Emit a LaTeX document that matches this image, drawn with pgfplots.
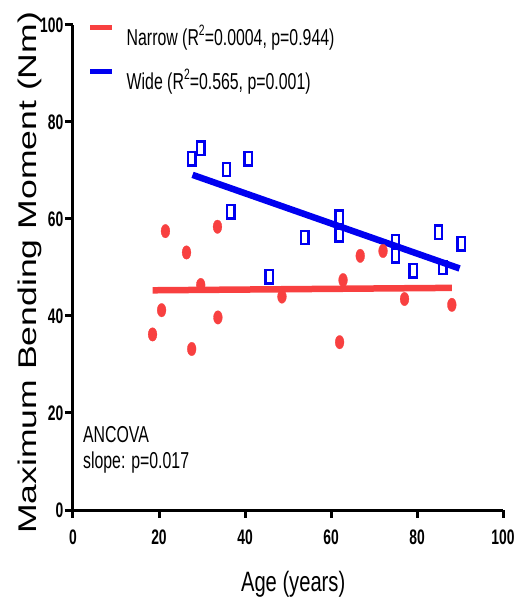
\documentclass[border=0pt]{standalone}
\usepackage{fontspec}
\setmainfont{Liberation Sans}
\newfontfamily\tickfont{Liberation Sans}[FakeStretch=0.66]
\newfontfamily\legfont{Liberation Sans}[FakeStretch=0.69]
\newfontfamily\xlfont{Liberation Sans}[FakeStretch=0.72]
\newfontfamily\ylfont{Liberation Sans}[FakeStretch=1.39]
\usepackage{pgfplots}
\pgfplotsset{compat=1.18}
\usepackage{pgfplotstable}
\definecolor{nred}{RGB}{248,64,64}
\definecolor{wblue}{RGB}{0,0,240}
\newcommand{\sq}{\raisebox{0.45em}{\fontsize{15}{15}\selectfont 2}}

\pgfplotstableread{
x y
18.5 36.2
20.6 41.2
21.5 57.5
26.4 53.1
27.6 33.2
29.7 46.4
33.7 39.7
33.6 58.4
48.6 44.0
62.0 34.6
62.8 47.4
66.8 52.4
72.1 53.4
77.1 43.5
88.1 42.3
}\narrowdata

\pgfplotstableread{
x y
27.6 72.4
29.7 74.6
35.7 70.2
40.7 72.4
36.7 61.5
45.6 48.1
53.9 56.2
61.9 60.4
61.9 56.7
75.0 55.3
75.0 52.4
79.1 49.3
85.0 57.3
86.0 50.0
90.3 54.9
}\widedata

\begin{document}
\begin{tikzpicture}
\begin{axis}[
  scale only axis, width=430pt, height=485pt,
  xmin=0, xmax=100, ymin=0, ymax=100,
  axis x line=bottom, axis y line=left,
  axis line style={-, line width=3pt, black},
  xtick={0,20,40,60,80,100}, ytick={0,20,40,60,80,100},
  xtick align=outside, ytick align=outside,
  major tick length=8pt,
  every tick/.style={black, line width=3pt},
  tick label style={font=\tickfont\bfseries\fontsize{21}{21}\selectfont},
  /pgf/number format/assume math mode=true,
  xticklabel style={inner sep=2pt, yshift=-10pt},
  yticklabel style={inner sep=1.5pt},
  xlabel={Age (years)},
  ylabel={Maximum Bending Moment (Nm)},
  xlabel style={font=\xlfont\fontsize{28}{28}\selectfont, at={(axis description cs:0.512,-0.169)}, anchor=base},
  ylabel style={font=\ylfont\fontsize{25.6}{25.6}\selectfont, at={(axis description cs:-0.0844,0.489)}, anchor=base},
  legend style={at={(axis description cs:0,1)}, anchor=north west, xshift=15pt,
    draw=none, fill=none, inner sep=0pt, outer sep=0pt,
    row sep=17pt, column sep=12.7pt,
    font=\legfont\fontsize{23}{23}\selectfont,
    nodes={inner sep=0pt, text height=17pt, text depth=6pt}},
  legend cell align=left,
  legend image code/.code={\draw[#1, line width=5pt] (0pt,13pt) -- (21pt,13pt);},
  clip=false,
]
\addplot[only marks, mark=*, mark size=4.4pt, color=nred,
  mark options={fill=nred, draw=nred, line width=0.3pt, yscale=1.53}, forget plot]
  table[x=x,y=y]{\narrowdata};
\addplot[only marks, mark=square, mark size=3.7pt, color=wblue,
  mark options={draw=wblue, fill=white, line width=2.4pt, yscale=1.8}, forget plot]
  table[x=x,y=y]{\widedata};
\addplot[nred, line width=6.5pt, no marks] coordinates {(18.5,45.3) (88.1,45.8)};
\addlegendentry{Narrow (R\sq=0.0004, p=0.944)}
\addplot[wblue, line width=6.5pt, no marks] coordinates {(27.8,69.1) (89.9,49.8)};
\addlegendentry{Wide (R\sq=0.565, p=0.001)}
\node[anchor=base west, inner sep=0pt, font=\legfont\fontsize{23}{23}\selectfont] at (axis cs:2.3,14.0) {ANCOVA};
\node[anchor=base west, inner sep=0pt, font=\legfont\fontsize{23}{23}\selectfont] at (axis cs:2.3,8.5) {slope: p=0.017};
\coordinate (SW) at (rel axis cs:0,0);
\coordinate (NE) at (rel axis cs:1,1);
\end{axis}
\pgfresetboundingbox
\path ([xshift=-73pt,yshift=-99pt]SW) rectangle ([xshift=25pt,yshift=25pt]NE);
\end{tikzpicture}
\end{document}
